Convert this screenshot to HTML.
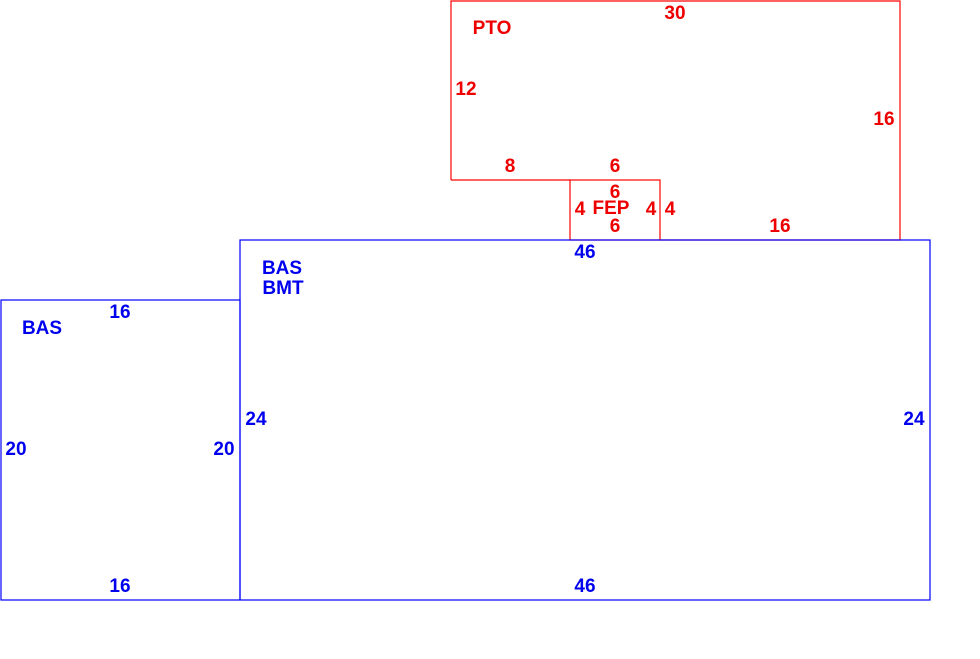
<!DOCTYPE html>
<html><head><meta charset="utf-8"><style>
html,body{margin:0;padding:0;background:#fff;width:980px;height:659px;overflow:hidden}
text{font-family:"Liberation Sans",sans-serif;font-weight:bold;font-size:19px}
</style></head><body>
<svg width="980" height="659" xmlns="http://www.w3.org/2000/svg">
<g fill="none" stroke="#ff0000" stroke-width="1.2">
<polyline points="451,180 451,1 900,1 900,240 660,240"/>
<line x1="451" y1="180" x2="570" y2="180"/>
<rect x="570" y="180" width="90" height="60"/>
</g>
<g fill="none" stroke="#0000ff" stroke-width="1.2">
<rect x="240" y="240" width="690" height="360"/>
<rect x="1" y="300" width="239" height="300"/>
</g>
<g fill="#ee0000" text-anchor="middle">
<text x="675" y="19">30</text>
<text x="492" y="34">PTO</text>
<text x="466" y="95">12</text>
<text x="884" y="125">16</text>
<text x="510" y="172">8</text>
<text x="615" y="172">6</text>
<text x="615" y="198">6</text>
<text x="580" y="215">4</text>
<text x="611" y="214">FEP</text>
<text x="651" y="215">4</text>
<text x="670" y="215">4</text>
<text x="615" y="232">6</text>
<text x="780" y="232">16</text>
</g>
<g fill="#0000ee" text-anchor="middle">
<text x="585" y="258">46</text>
<text x="282" y="274">BAS</text>
<text x="283" y="294">BMT</text>
<text x="120" y="318">16</text>
<text x="42" y="334">BAS</text>
<text x="256" y="425">24</text>
<text x="914" y="425">24</text>
<text x="16" y="455">20</text>
<text x="224" y="455">20</text>
<text x="120" y="592">16</text>
<text x="585" y="592">46</text>
</g>
</svg>
</body></html>
